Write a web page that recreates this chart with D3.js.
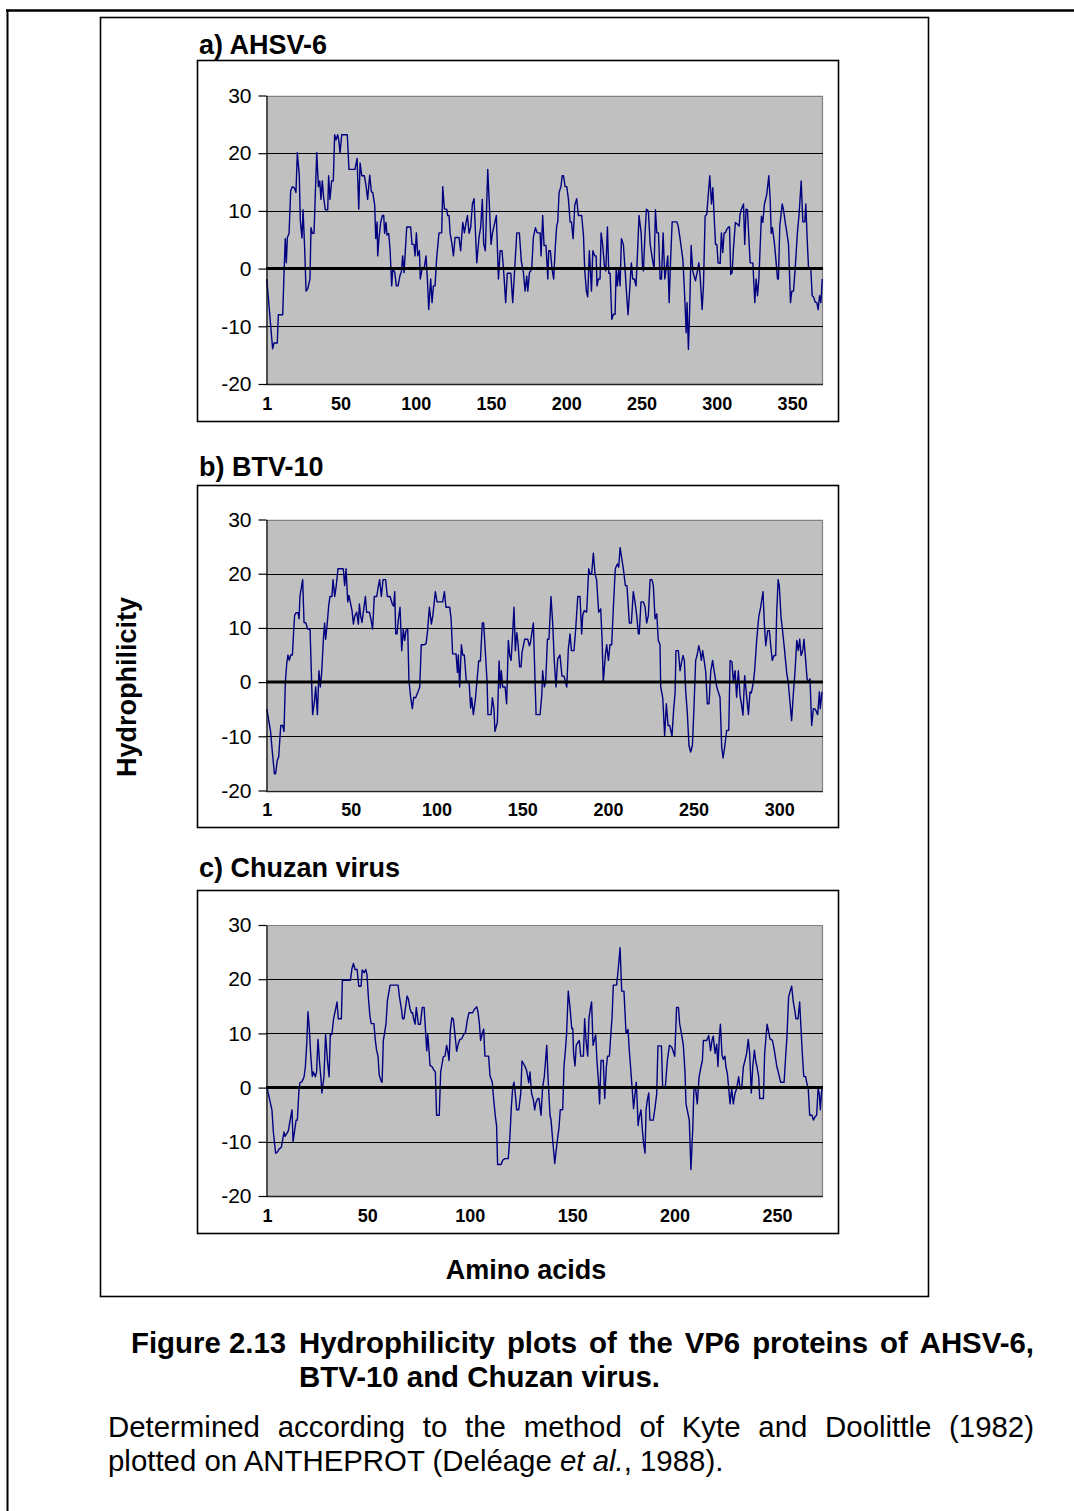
<!DOCTYPE html>
<html><head><meta charset="utf-8">
<script src="https://cdn.jsdelivr.net/npm/d3@7"></script>
<style>
body{margin:0;background:#fff}
svg{display:block}
text{font-family:"Liberation Sans",Arial,Helvetica,sans-serif;fill:#000}
</style>
</head><body>
<svg id="chart" width="1074" height="1511"></svg>
<script>
// ---------- DATA (residue position, hydrophilicity) ----------
const ahsv=[[1,-1.8],[4.9,-13.9],[5.8,-12.9],[8,-12.9],[8.7,-8],[11.6,-8],[12.5,-0.6],[13.3,5.2],[14,1],[14.7,5.4],[15.8,6.1],[16.9,13.5],[18,14.2],[19.3,14],[20.4,13.2],[21.3,20.1],[22.6,16.2],[23.3,8.3],[24.4,5.3],[25.1,10.2],[26.2,3.4],[27.1,-3.9],[28.2,-3.5],[29.7,-1.8],[30.4,7.1],[31.3,6.1],[32.4,6.1],[33.3,13.2],[34.2,20.1],[35.3,14.2],[36.2,15.2],[37,12],[37.9,15.2],[38.8,12.3],[39.9,10.2],[41.5,10.2],[42.1,16.1],[43,12],[44.1,15.2],[45.2,15.2],[46.1,23.2],[47,22.3],[48.1,23.2],[48.8,22.3],[49.7,20.1],[50.8,23.2],[54.5,23.2],[55.6,17.2],[59.6,17.2],[61,19.1],[62.1,10.3],[63,18.3],[64.1,16.1],[65.8,16.1],[67,14.3],[68,12],[69.4,16.2],[70.5,13.3],[71.4,13.2],[72.7,11],[73.4,5.2],[74.3,8.1],[74.7,2.2],[75.6,5.4],[76.7,8],[77.8,9.2],[78.7,9.2],[79.3,6.1],[80.2,8],[80.9,5.8],[82,6.1],[82.9,3.4],[84,-3],[84.7,-0.1],[86,-0.6],[87.1,-3],[88.2,-3],[89.5,-1.2],[90.4,-0.6],[91.3,2.2],[92.2,-0.7],[93.3,4.2],[94,7.2],[96.6,7.2],[97.5,4.2],[98.8,4.2],[99.5,2.2],[100.4,6.2],[101.3,2.2],[102.4,3.1],[103,-1.8],[104.4,0.2],[105.5,-0.1],[106.8,2.2],[107.7,-1.8],[108.6,-7.1],[109.9,-1.8],[110.8,-5.9],[111.7,-3],[112.8,-3],[113.9,1.9],[115.4,6.2],[117.2,6.2],[117.9,14.2],[119,10.3],[120.5,10.3],[121.2,9.2],[122.1,9.2],[122.8,6.1],[123.9,4.5],[125,2.2],[126.1,5.4],[128.7,5.4],[129.8,3.1],[131.2,8],[132.3,6.2],[133.4,8],[134.3,9.2],[135.4,6.1],[136.5,7.2],[137.6,11.2],[138.7,12.1],[140.5,1],[142,5.4],[143.1,7.2],[144.2,12],[145.1,4.3],[146.2,3.1],[147.8,17.2],[148.7,12],[150,4.2],[150.9,6.1],[153.5,9.2],[154.9,-1.8],[156,3.1],[157.3,3.1],[158.6,-1.3],[159.7,-5.9],[160.8,-0.8],[163.1,-0.8],[164.4,-5.9],[165.3,-1.8],[167.1,6.2],[168.8,6.2],[170.1,1.3],[171.5,-0.7],[172.6,-3.9],[173.7,-1.3],[174.4,-3.9],[175.5,-0.7],[177,-0.1],[178.1,5.4],[179.5,7.1],[180.6,6.2],[182.6,6.2],[183.2,2.2],[184.3,9.2],[185.2,4],[186.5,4],[187.7,-1.8],[188.3,3.1],[189.4,3.1],[190.5,-0.1],[191.6,-1.8],[192.7,3.9],[193.6,7.4],[194.3,8.1],[195.2,13.2],[196.5,14.3],[197.2,16.1],[198.1,16.1],[199.2,14.2],[200.3,14.2],[201.4,12],[202.5,8.1],[203.4,8.1],[204.5,5.2],[205.6,11],[206.9,12.1],[208,9.2],[210.2,9.2],[211.4,5.7],[212.2,-0.1],[213.3,-3.9],[214.2,-4.9],[215.3,3.1],[216.7,-3.9],[217.6,3.1],[218.9,2.2],[219.8,2.2],[220.4,-3],[221.3,-1.8],[222.4,-1.8],[223.1,6.2],[224,4.5],[225.3,0.5],[226.2,-0.4],[227.3,7.2],[228.2,-0.8],[229.1,-0.8],[230.2,-8.8],[231.3,-7.9],[232.4,-7.9],[233.1,-0.1],[233.9,-3],[234.8,-0.1],[235.7,-3],[236.6,5.2],[237.9,4.2],[239.3,-1.3],[240.1,-4.7],[241,-8],[242.1,-3.6],[243.2,1],[244.1,-1.8],[245.2,-1.8],[246.3,-3],[247.2,2.2],[248.3,9.2],[249.7,6.2],[250.6,0.5],[251.2,-0.4],[252.3,6.2],[253.2,10.3],[254.5,10],[255.7,4.2],[257.2,1.6],[258.3,-0.1],[259.2,10.2],[260.1,6.2],[261.2,6.2],[262.3,-1.8],[263.2,-1.8],[264.3,6.2],[265.4,-1.8],[266.3,-0.1],[267.4,2.2],[268.3,-5.9],[269.2,1],[270.3,8.1],[273.4,8.1],[274.3,7.4],[275.6,5.1],[277.4,1.6],[278.2,-2.4],[279.1,-7.6],[279.6,-11.1],[280.2,-5.9],[281.1,-14],[282,-6.5],[282.9,4],[284,-0.4],[284.9,-1.3],[285.8,-2.1],[287.1,-0.4],[288,1],[288.9,-1.3],[290.2,-7.1],[291.1,-3],[292.2,9.1],[293.3,9.4],[294.4,13.2],[295.3,16.1],[296.4,11.2],[297.3,14],[298.2,9.1],[299.1,4.2],[300,4.2],[300.8,1],[302.2,0.9],[303,6.2],[303.9,2.8],[304.8,6.2],[305.7,6.2],[306.6,6.8],[307.7,7.2],[308.4,7.2],[309.2,-1],[310.1,-0.7],[311,3.4],[312.3,8],[313.7,7.7],[314.8,7.4],[315.4,9.4],[316.3,10.3],[317.7,11.2],[318.5,4.2],[319.4,10.3],[320.3,10.2],[322.1,1],[323.9,1],[325.2,-5.9],[326.1,-1.8],[327,-4.7],[327.9,-1.8],[328.7,3.4],[329.6,9.1],[330.5,8],[331.6,11.2],[333.2,12.9],[334.5,16.1],[335.4,12],[336.1,6.1],[336.9,7.1],[338.3,4.2],[339.4,1],[340.3,-1.8],[340.9,-1.8],[341.8,7.4],[343.4,11.2],[344.2,10.3],[345.4,8],[346.5,6.2],[347.6,4.2],[348.9,-5.9],[349.8,-3.9],[350.9,-3.9],[352,-0.1],[353.5,6.2],[354.7,9.7],[356,15.2],[357.1,8.1],[358.4,8.1],[359.1,11.2],[360,5.1],[360.9,0],[362.4,0],[363.3,-4.7],[364.2,-4.9],[365.3,-5.8],[366.4,-5.9],[367.3,-7.1],[368.2,-4.7],[369.1,-5.9],[370,-1.8]];

const btv=[[1,-5],[3.2,-9.2],[4.2,-12.9],[5.4,-16.9],[6.1,-16.9],[7.1,-14.4],[7.9,-13.8],[9.1,-8],[10.2,-8],[11,-9.1],[11.8,0],[12.6,3.4],[13.3,5],[14.1,4],[14.9,5],[15.9,5],[16.6,9.2],[17.2,12.3],[18,12.8],[19.2,12.8],[19.8,11.7],[20.3,15.8],[21.9,18.9],[22.7,11],[23.8,10.9],[24.8,9.8],[26.2,9.8],[27.7,-6],[28.7,-3.7],[29.5,-0.9],[30.5,-6],[31.4,2.1],[32.2,-0.9],[33,1.8],[34,8],[34.7,10.9],[35.3,7.9],[36.1,10.4],[37.1,14.1],[37.8,15.8],[39,15.8],[39.6,18.9],[40.6,15.8],[41.5,17.8],[42.5,20.9],[45.6,20.9],[46.4,17.8],[47.2,20.9],[48.2,14.8],[48.9,16],[50.7,13.2],[51.5,10.7],[52.2,12.1],[53.4,12.9],[54.4,10.7],[55,14.4],[55.7,12.3],[56.5,11],[57.3,12.9],[58.5,15.8],[59.2,12.9],[60.8,12.9],[61.8,11.5],[62.7,9.8],[63.7,15.8],[65.1,15.8],[66.1,17.8],[66.8,18.9],[67.8,15.8],[68.8,18.9],[70.3,18.9],[71.3,15.8],[72.9,15.8],[74.2,14.4],[75,14],[75.6,16.7],[76.2,8.9],[76.9,8.9],[77.9,12],[78.7,13.8],[79.7,5.8],[80.6,9.7],[81.4,7.7],[82.2,9.5],[83.2,9.8],[83.9,0.3],[84.9,-2.8],[85.9,-4.9],[86.7,-2.8],[87.8,-2.9],[89.2,-1.8],[90.2,-0.9],[91.1,6.9],[92.9,6.9],[93.9,7.1],[94.8,9.5],[95.8,13.8],[97,10.7],[97.9,12.4],[99.3,16.7],[100.3,14.8],[103.6,14.8],[104.6,16.7],[105.5,13.8],[107.7,13.8],[108.5,11.7],[109.4,5.2],[111.4,5.2],[112.2,1.8],[112.7,5],[113.5,-0.9],[114.5,6.9],[115.3,5],[116.2,5],[117.4,0.1],[119,0.1],[119.9,-4.8],[120.5,-2.9],[121.5,-6],[122.7,-3.1],[123.6,0.2],[124.6,3.9],[125.6,3.9],[126.7,10.9],[127.5,10.9],[128.5,5.5],[129.5,0],[130,-6],[131.8,-6],[132.6,-2.9],[133.5,-4.9],[134.1,-9.1],[135.5,-7.4],[136.5,3.9],[137.2,-1.1],[137.8,2.1],[138.6,-0.9],[140,-0.9],[140.9,-4],[141.9,7.7],[142.7,4.9],[143.5,4],[144.2,7.7],[145.2,13.8],[146,5.8],[146.8,9.1],[147.5,7.4],[148.5,2.8],[149.3,2.8],[149.9,5.5],[151.4,7.9],[153.2,7.9],[154.2,6.7],[154.7,7.1],[156.5,10.9],[157.5,0],[158.1,-6],[160.4,-6],[161.4,-2.5],[161.9,2.1],[162.9,-0.9],[163.7,0],[164.7,7.9],[165.6,7.9],[166.8,15.8],[167.8,10.7],[168.7,4],[169.7,-0.9],[170.7,4.3],[172,5],[173.2,1.1],[174.4,1.1],[176,-0.9],[176.9,6.1],[177.9,8.9],[178.7,5.8],[180.2,5.8],[181.2,9.8],[182.4,15.8],[183.7,15.8],[184.7,8.9],[185.3,12.3],[186.2,13.2],[187.6,12.9],[188.8,20.9],[189.6,19.9],[190.5,19.9],[191.5,23.8],[192.5,19.9],[193.4,18.9],[194.6,12.9],[195.8,13.5],[196.6,7.9],[197.3,0],[198.5,4.9],[199.3,6.9],[200.3,4],[201.2,6.9],[202.2,6.9],[203.2,13.8],[204.3,20.9],[205.5,21.8],[206.3,21.2],[207.1,24.8],[208,23],[209,20.9],[210.2,17.8],[211.1,17.8],[212.5,10.9],[213.7,10.9],[214.8,16.7],[215.8,14.8],[216.8,12.3],[217.8,8.9],[218.3,8.9],[219.3,14.8],[220.7,14.8],[221.7,13.8],[222.6,10.9],[223.6,12.3],[224.6,18.9],[225.7,18.9],[226.5,17.8],[227.5,11.7],[228.5,12.6],[229.4,7.7],[230.4,6.9],[230.8,-0.9],[232,-2.9],[233.1,-9.9],[234.1,-4],[235.1,-8],[236,-8],[237.4,-9.9],[238.4,-4.9],[239.2,-2],[239.7,5.8],[241.1,5.8],[242.1,2.1],[243,3.7],[243.8,4.9],[244.6,4],[245.4,-1.8],[246.3,-5.5],[247.3,-11.7],[248.3,-12.9],[249.3,-11.7],[250.2,-4.9],[251.2,4],[252,4.9],[253,6.7],[253.9,5.5],[254.5,4],[255.3,5.8],[256.3,3.7],[257.1,1.8],[258,-4],[259,-4],[260,2],[261.1,4],[262.1,1.8],[263.5,-0.9],[264.4,-1.8],[265.4,-2.8],[266.4,-12],[267.2,-14],[268,-12.3],[269.3,-8.9],[270.5,-8.9],[271.3,4],[272.4,3.7],[273.2,0],[274.2,2.1],[275.1,-2.8],[276.1,2.1],[277.1,-2.5],[277.9,-4],[278.8,-6.1],[279.8,1.2],[281,-2.8],[282,-6],[282.9,-1.8],[283.7,-2],[284.9,0],[285.6,2.1],[286.8,7.7],[288,12],[289.1,13.8],[290.5,16.7],[291.3,10.7],[292.1,6.7],[293.2,9.5],[294.2,9.5],[295,6.7],[295.9,4],[296.9,4.9],[297.9,4.9],[298.5,12.9],[299.3,18.9],[300,17.8],[301,12],[301.8,9.8],[303.1,5.8],[304.3,1.8],[305.3,-0.3],[306.3,-4],[307.2,-7.1],[308.2,-2.1],[309.2,2.1],[310.2,7.7],[311.1,5.8],[311.9,7.9],[312.7,4.9],[313.7,5.8],[314.4,7.9],[315.4,4],[316.2,0.6],[317.2,0],[317.9,0.6],[318.9,-8],[319.9,-4.9],[321,-5],[322.4,-6],[323.4,-1.8],[323.9,-4.9],[324.9,-1.8]];

const chuzan=[[1,0],[3.4,-4.1],[4.1,-8.2],[5.2,-12.1],[6,-11.9],[7,-11.3],[8,-11],[9.3,-8.2],[9.8,-9],[10.6,-8.5],[11.4,-8],[12.2,-6.2],[13.2,-4.1],[13.7,-10],[14.5,-7.9],[15.2,-6],[15.8,-6],[16.6,-0.5],[17.1,0.9],[18.1,1.1],[19.1,2],[19.7,3.8],[20.4,8.1],[21,14],[21.7,10.6],[22.3,6.3],[23.1,2.1],[23.6,2.9],[24.6,2],[25.2,2.9],[25.9,8.9],[26.7,4.4],[27.4,1.4],[27.8,-1],[28.8,2],[29.6,9.8],[30.5,5],[31.3,2],[31.9,9.8],[32.7,9.8],[33.5,12.7],[34.4,14.3],[35.2,15.8],[35.8,12.7],[37.3,12.7],[37.8,19.8],[41.7,19.8],[42.5,22],[43.2,22.9],[44,21.8],[45,21.8],[45.8,18.7],[46.9,18.7],[47.5,21.7],[48.4,21.2],[49.2,21.8],[49.8,20.9],[50.6,16.1],[51.3,13],[51.9,11.8],[53.2,11.8],[53.9,8.7],[54.5,6.9],[55.2,5.8],[55.8,2.3],[56.7,1.2],[57.2,1],[57.8,8.7],[58.3,9.8],[59.1,11.8],[59.8,16.1],[61.1,18.9],[65,18.9],[65.8,16.4],[66.6,14.6],[67.2,12.7],[67.9,12.7],[68.7,15],[69.4,16.9],[70,16.4],[70.8,14.6],[71.5,13.8],[72.1,13.8],[72.6,12.7],[73.3,11.7],[73.9,14.8],[74.9,11.7],[75.9,11.7],[76.8,14.8],[77.7,14.8],[78.3,11.2],[79,6.8],[79.5,9.8],[80.1,6.8],[80.6,4.1],[81.7,3.8],[82.5,3.2],[83.2,2.9],[83.8,-5.1],[85.1,-5.1],[85.8,2.9],[86.5,4.4],[87.1,5.7],[87.9,5.8],[88.7,7.8],[89.2,6.9],[89.9,5],[90.5,10.6],[91.3,12.9],[92,12.6],[92.8,9.7],[93.6,6.7],[94.4,8.1],[95.2,8.9],[96.1,9],[97,9.8],[97.8,10],[98.8,12.4],[99.6,13.8],[101.4,13.8],[102.2,14.4],[103.4,14.9],[104,14],[104.7,11.8],[105.3,8.7],[106,9.8],[106.8,10.8],[107.4,5.8],[109.2,5.8],[109.9,2.2],[111,1],[111.7,-2.3],[112.5,-5.3],[113.1,-7],[113.6,-14.2],[115.3,-14.2],[116.1,-13.4],[117.1,-13.1],[118.8,-13.1],[119.6,-9.1],[120.3,-3.6],[121,0.1],[121.6,1],[122.3,-1.4],[122.9,-4.1],[123.9,-4.1],[124.9,-1.1],[125.5,4.9],[126.3,4.4],[127.1,3.8],[127.8,3.1],[128.8,0.9],[129.4,2.9],[130.2,-1.1],[131.1,-2.3],[131.7,-4.1],[132.3,-2.8],[133.2,-2],[133.8,-2],[134.8,-5.1],[135.6,0.1],[136.4,2],[136.9,4.4],[137.6,7.8],[138.2,2],[139.2,-5.1],[139.7,-6],[140.5,-9.7],[141.5,-14],[142.1,-11.9],[142.8,-9.7],[143.6,-7.3],[144.2,-4.1],[145.4,-4.1],[146,3.8],[146.7,6.9],[147.3,10],[148.1,17.8],[149,14.6],[149.8,10.9],[150.3,10.9],[150.7,6.3],[151.4,4],[152,7.8],[152.9,8.4],[153.5,8.7],[154.2,5.8],[155.5,5.8],[156.1,12.7],[156.8,8.7],[157.6,5.8],[158.2,12.7],[158.9,14.6],[159.5,15.8],[160.2,7.8],[160.8,8.7],[161.5,9.7],[162.1,5],[162.8,1.4],[163.4,-3],[164.1,5],[165.2,5],[165.9,-2],[166.7,3.8],[167.3,5.8],[168.2,5.8],[168.8,9.4],[169.5,13],[170.1,18.9],[171.7,18.9],[172.4,21.4],[173.4,25.8],[174.2,17.8],[175.3,17.8],[176,12.4],[176.3,10],[177.3,10.7],[177.9,6.9],[178.6,3.5],[179.2,0.4],[180,-3.9],[180.7,-1.1],[181.3,1],[181.8,-3],[182.2,-7],[182.8,-5.4],[183.6,-4.1],[184.3,-7.8],[184.9,-10.3],[185.6,-12.1],[186.1,-4.1],[186.7,-2.3],[187.4,-1],[188,-6],[189.6,-6],[190.5,-3.6],[191.3,-1.1],[191.9,7.7],[193.6,7.7],[194.2,0.1],[195.5,0.1],[196.5,5],[197.5,7.8],[198.6,7.5],[199.4,6.6],[200.1,5.8],[201,14.8],[201.9,14.8],[202.5,11.8],[203.5,9.7],[204.3,7.8],[205.1,2.9],[205.6,-3],[206.4,-4.5],[207.2,-6],[208,-15.1],[208.9,-7.6],[209.5,0.1],[210.3,-0.2],[211.1,-3],[212,2],[212.9,3.8],[213.6,5],[214.1,8.7],[215.7,8.7],[216.7,9.6],[217.6,6.8],[218.3,8.7],[218.9,9.5],[219.8,6.3],[220.6,8],[221.2,3.9],[221.9,9.4],[222.4,11.7],[223.2,6],[223.8,5.2],[224.6,5.8],[225.1,3.8],[225.8,2.6],[226.4,0.1],[227.1,-3],[227.9,-0.2],[228.7,-3],[229.5,-1.1],[230.3,-0.2],[231.3,2],[232,-0.2],[232.8,-0.2],[233.6,3.8],[234.4,5],[235.2,6.3],[236,8.9],[236.7,6.3],[237.5,-1],[238.2,3.9],[239,6.9],[239.6,5],[240.3,3.8],[241.1,2],[241.6,-2],[243.4,-2],[244,6.3],[245.2,11.7],[245.8,10.6],[246.6,9],[247.8,8.7],[248.6,7.2],[249.2,5.7],[250,3.8],[250.9,2.5],[251.8,1],[253.5,1],[254.3,6],[254.9,9.4],[255.7,16.7],[256.4,17.7],[257.2,18.7],[258,15.8],[258.7,14.3],[259.3,12.7],[260.3,12.7],[261.1,15.8],[261.8,10.6],[262.4,6.3],[263.1,2.1],[264,2],[264.7,0.7],[265.3,-0.2],[266,-5.1],[267.1,-5.1],[267.8,-6],[268.6,-5.4],[269.4,-5.1],[270.1,-0.2],[270.7,-1.1],[271.2,-4.1],[272,0.1]];

const seqLengths=[370,325,272];
const yTicks=[-20,-10,0,10,20,30];
const gridValues=[-10,10,20];
const ahsvTicks=[1,50,100,150,200,250,300,350];
const btvTicks=[1,50,100,150,200,250,300];
const chuzanTicks=[1,50,100,150,200,250];
const panelTitles=["a) AHSV-6","b) BTV-10","c) Chuzan virus"];
const yLabel="Hydrophilicity";
const xLabel="Amino acids";
const captionLead="Figure 2.13";
const captionLine1="Hydrophilicity plots of the VP6 proteins of AHSV-6,";
const captionLine2="BTV-10 and Chuzan virus.";
const noteLine1="Determined according to the method of Kyte and Doolittle (1982)";

// ---------- LAYOUT ----------
const svg=d3.select("#chart");
const FONT='"Liberation Sans",Arial,Helvetica,sans-serif';
const TXT=29.4;
svg.append("rect").attr("width",1074).attr("height",1511).attr("fill","#fff");

// page frame
svg.append("line").attr("x1",6).attr("x2",1074).attr("y1",10.5).attr("y2",10.5)
  .attr("stroke","#000").attr("stroke-width",2.5);
svg.append("line").attr("x1",7.5).attr("x2",7.5).attr("y1",9.5).attr("y2",1511)
  .attr("stroke","#000").attr("stroke-width",2);
// figure frame
svg.append("rect").attr("x",100.5).attr("y",17.5).attr("width",828).attr("height",1279)
  .attr("fill","none").attr("stroke","#000").attr("stroke-width",1.6);

const panels=[
  {data:ahsv,n:seqLengths[0],ticks:ahsvTicks,title:panelTitles[0],box:[197,60,838,421],plot:[266,95.5,823,384],titleY:54},
  {data:btv,n:seqLengths[1],ticks:btvTicks,title:panelTitles[1],box:[197,485,838,827],plot:[266,519.5,823,790.5],titleY:476},
  {data:chuzan,n:seqLengths[2],ticks:chuzanTicks,title:panelTitles[2],box:[197,890,838,1233],plot:[266,925,823,1196],titleY:877}
];

panels.forEach((p,i)=>{
  const [bx0,by0,bx1,by1]=p.box;
  const [px0,py0,px1,py1]=p.plot;
  svg.append("rect").attr("x",bx0+0.5).attr("y",by0+0.5).attr("width",bx1-bx0).attr("height",by1-by0)
    .attr("fill","#fff").attr("stroke","#000").attr("stroke-width",1.6);
  svg.append("text").attr("x",199).attr("y",p.titleY).attr("font-size",27).attr("font-weight","bold")
    .style("font-family",FONT).text(p.title);

  const x=d3.scaleLinear().domain([0.5,p.n+0.5]).range([px0,px1]);
  const y=d3.scaleLinear().domain([-20,30]).range([py1,py0]);

  const g=svg.append("g");
  g.append("rect").attr("x",px0).attr("y",py0).attr("width",px1-px0).attr("height",py1-py0).attr("fill","#c0c0c0");
  g.append("path").attr("d",`M${px0},${Math.round(py0)+0.5}H${px1-0.5}V${py1}`)
    .attr("fill","none").attr("stroke","#808080").attr("stroke-width",1.2);
  g.selectAll("line.grid").data(gridValues).enter().append("line")
    .attr("x1",px0).attr("x2",px1).attr("y1",d=>Math.round(y(d))+0.5).attr("y2",d=>Math.round(y(d))+0.5)
    .attr("stroke","#000").attr("stroke-width",1);
  g.append("line").attr("x1",px0).attr("x2",px1).attr("y1",Math.round(y(-20))+0.5).attr("y2",Math.round(y(-20))+0.5)
    .attr("stroke","#222").attr("stroke-width",1.3);

  const clipId="clip"+i;
  svg.append("clipPath").attr("id",clipId).append("rect")
    .attr("x",px0).attr("y",py0).attr("width",px1-px0).attr("height",py1-py0);
  const line=d3.line().x(d=>x(d[0])).y(d=>y(d[1]));
  g.append("path").datum(p.data).attr("d",line).attr("clip-path",`url(#${clipId})`)
    .attr("fill","none").attr("stroke","#000080").attr("stroke-width",1.4).attr("stroke-linejoin","round");

  g.append("line").attr("x1",px0).attr("x2",px1).attr("y1",y(0)).attr("y2",y(0))
    .attr("stroke","#000").attr("stroke-width",3);

  const ya=svg.append("g").attr("transform",`translate(${px0+0.5},0)`)
    .call(d3.axisLeft(y).tickValues(yTicks).tickFormat(d=>String(d)).tickSize(8).tickSizeOuter(0).tickPadding(7));
  ya.select(".domain").attr("stroke","#000").attr("stroke-width",1.2);
  ya.selectAll(".tick line").attr("stroke","#000").attr("stroke-width",1.2);
  ya.selectAll(".tick text").attr("font-size",21).style("font-family",FONT).attr("fill","#000");

  const xa=svg.append("g").attr("transform",`translate(0,${py1})`)
    .call(d3.axisBottom(x).tickValues(p.ticks).tickFormat(d=>String(d)).tickSize(0).tickPadding(13));
  xa.select(".domain").remove();
  xa.selectAll(".tick text").attr("font-size",18).attr("font-weight","bold").style("font-family",FONT).attr("fill","#000");
});

// axis titles
svg.append("text").attr("transform","translate(136,687) rotate(-90)").attr("text-anchor","middle")
  .attr("font-size",27).attr("font-weight","bold").style("font-family",FONT).text(yLabel);
svg.append("text").attr("x",526).attr("y",1279).attr("text-anchor","middle")
  .attr("font-size",27).attr("font-weight","bold").style("font-family",FONT).text(xLabel);

function justify(str,x0,x1,yb,size,weight){
  const words=str.split(" ");
  const nodes=words.map(w=>svg.append("text").attr("y",yb).attr("font-size",size)
    .attr("font-weight",weight).style("font-family",FONT).text(w));
  const widths=nodes.map(n=>n.node().getComputedTextLength());
  const gap=(x1-x0-d3.sum(widths))/(words.length-1);
  let xx=x0;
  nodes.forEach((n,k)=>{n.attr("x",xx);xx+=widths[k]+gap;});
}

// caption
svg.append("text").attr("x",131).attr("y",1353).attr("font-size",TXT).attr("font-weight","bold")
  .style("font-family",FONT).text(captionLead);
justify(captionLine1,299,1034,1353,TXT,"bold");
svg.append("text").attr("x",299).attr("y",1387).attr("font-size",TXT).attr("font-weight","bold")
  .style("font-family",FONT).text(captionLine2);

// note
justify(noteLine1,108,1034,1437,TXT,"normal");
const t2=svg.append("text").attr("x",108).attr("y",1471).attr("font-size",TXT).style("font-family",FONT);
t2.append("tspan").text("plotted on ANTHEPROT (Deléage ");
t2.append("tspan").attr("font-style","italic").text("et al.");
t2.append("tspan").text(", 1988).");
</script>
</body></html>
